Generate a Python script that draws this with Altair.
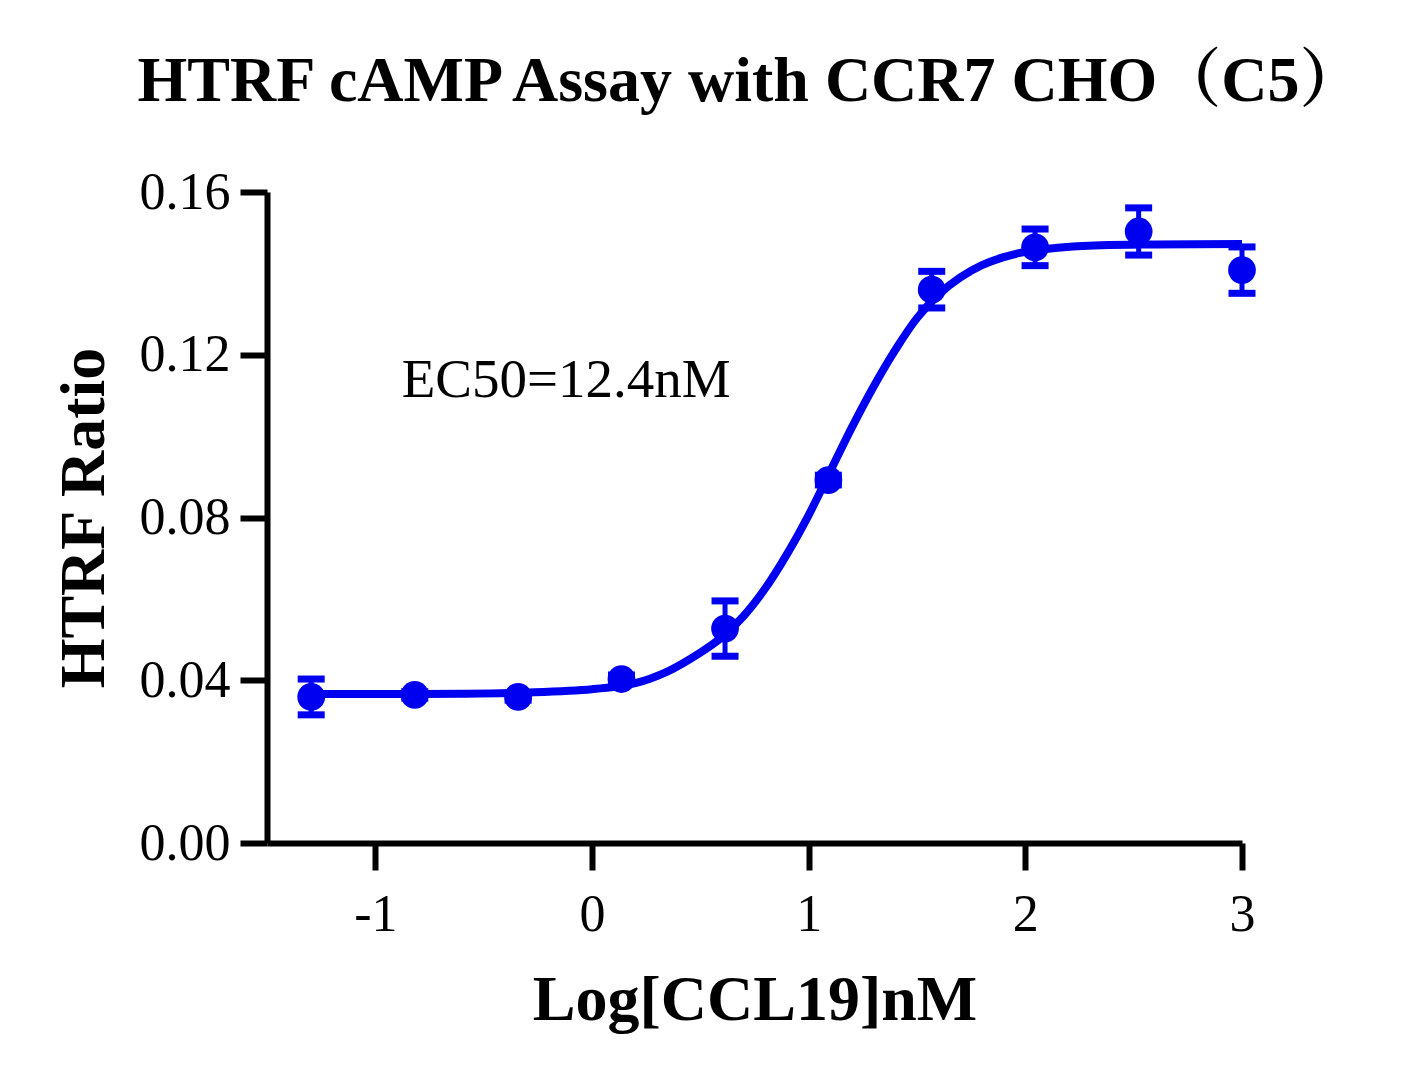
import altair as alt
import pandas as pd

# Measured data (log concentration, mean HTRF ratio, SEM)
log_conc = [-1.296, -0.818, -0.341, 0.136, 0.614, 1.091, 1.568, 2.045, 2.523, 3.0]
ratio = [0.0359, 0.0364, 0.0359, 0.0403, 0.0527, 0.0892, 0.1360, 0.1464, 0.1503, 0.1408]
sem = [0.0044, 0.0008, 0.0008, 0.0010, 0.0068, 0.0012, 0.0045, 0.0045, 0.0058, 0.0057]

# Fitted curve
curve_x = [-1.296, -1.0, -0.6, -0.3, 0.0, 0.2, 0.35, 0.5, 0.6, 0.7, 0.8, 0.9,
           1.0, 1.1, 1.2, 1.3, 1.4, 1.5, 1.6, 1.7, 1.8, 1.9, 2.0, 2.15, 2.35, 2.6, 3.0]
curve_y = [0.0366, 0.0366, 0.0367, 0.0370, 0.0378, 0.0393, 0.0422, 0.0468, 0.0506,
           0.0558, 0.0626, 0.0710, 0.0806, 0.0914, 0.1022, 0.1122, 0.1212, 0.1290,
           0.1348, 0.1390, 0.1420, 0.1440, 0.1453, 0.1463, 0.1469, 0.1471, 0.1472]

x_ticks = [-1, 0, 1, 2, 3]
y_ticks = [0.0, 0.04, 0.08, 0.12, 0.16]

title_text = "HTRF cAMP Assay with CCR7 CHO（C5）"
x_title = "Log[CCL19]nM"
y_title = "HTRF Ratio"
annot_text = ["EC50=12.4nM"]
annot_x = [-0.878]
annot_y = [0.1096]

BLUE = "#0000F0"
SERIF = "Liberation Serif, Times New Roman, Noto Serif CJK SC, Noto Sans CJK SC, serif"

pts = pd.DataFrame({"x": log_conc, "y": ratio, "e": sem})
curve = pd.DataFrame({"x": curve_x, "y": curve_y})
annot = pd.DataFrame({"x": annot_x, "y": annot_y, "t": annot_text})

xscale = alt.Scale(domain=[-1.5, 3], nice=False, zero=False)
yscale = alt.Scale(domain=[0, 0.16], nice=False, zero=False)

xaxis = alt.Axis(
    values=x_ticks, title=x_title, grid=False, labelFlush=False, labelOverlap=False,
    format="d", labelExpr="replace(datum.label, '−', '-')",
    labelBaseline="alphabetic", labelPadding=60,
    titleY=176, titleBaseline="alphabetic",
)
yaxis = alt.Axis(
    values=y_ticks, title=y_title, grid=False, format=".2f", labelFlush=False,
    labelOverlap=False, labelPadding=10, labelBaseline="middle",
    titleX=-164, titleY=325.5, titleAngle=270, titleAlign="center",
    titleBaseline="alphabetic",
)

base = alt.Chart(pts)

line = alt.Chart(curve).mark_line(color=BLUE, strokeWidth=8, interpolate="catmull-rom").encode(
    x=alt.X("x:Q", scale=xscale, axis=xaxis),
    y=alt.Y("y:Q", scale=yscale, axis=yaxis),
)

err = base.transform_calculate(lo="datum.y - datum.e", hi="datum.y + datum.e").mark_rule(
    color=BLUE, strokeWidth=5
).encode(x="x:Q", y="lo:Q", y2="hi:Q")

cap_hi = base.transform_calculate(hi="datum.y + datum.e").mark_tick(
    color=BLUE, orient="horizontal", size=27, thickness=7, opacity=1
).encode(x="x:Q", y="hi:Q")
cap_lo = base.transform_calculate(lo="datum.y - datum.e").mark_tick(
    color=BLUE, orient="horizontal", size=27, thickness=7, opacity=1
).encode(x="x:Q", y="lo:Q")

dots = base.mark_circle(color=BLUE, size=770, opacity=1).encode(x="x:Q", y="y:Q")

label = alt.Chart(annot).mark_text(
    font=SERIF, fontSize=55, align="left", baseline="alphabetic", color="black"
).encode(x="x:Q", y="y:Q", text="t:N")

chart = alt.layer(err, cap_hi, cap_lo, line, dots, label).properties(
    width=975,
    height=651,
    title=alt.TitleParams(
        text=title_text, font=SERIF, fontSize=64, fontWeight="bold", color="black",
        anchor="middle", offset=52, dx=-4,
    ),
    autosize=alt.AutoSizeParams(type="none"),
    padding={"left": 259, "top": 184, "right": 140, "bottom": 220},
).configure_axis(
    domainColor="black", domainWidth=6, tickColor="black", tickWidth=6, tickSize=27,
    labelFont=SERIF, labelFontSize=52, labelColor="black",
    titleFont=SERIF, titleFontSize=64, titleFontWeight="bold", titleColor="black",
).configure_view(strokeWidth=0)

chart.save("out.html", embed_options={"renderer": "svg", "actions": False})
